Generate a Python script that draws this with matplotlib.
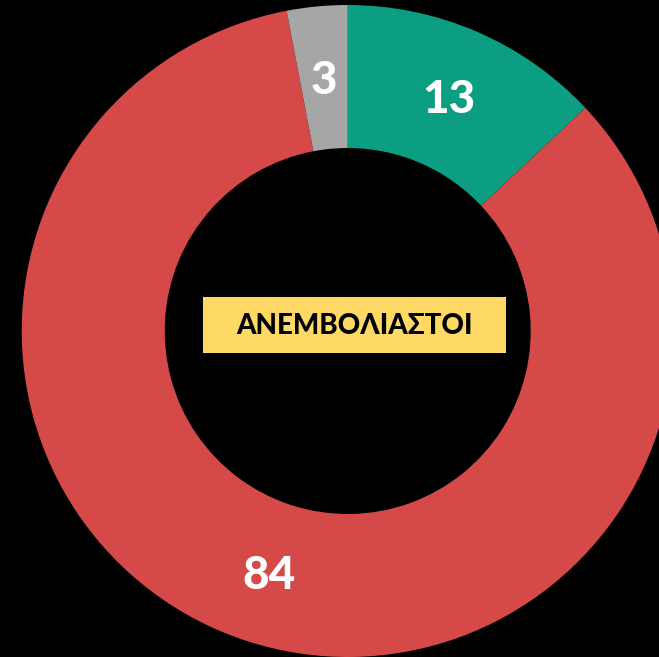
import numpy as np
import matplotlib
matplotlib.use("Agg")
import matplotlib.pyplot as plt
from matplotlib.patches import Rectangle

labels = ["Εμβολιασμένοι", "Ανεμβολίαστοι", "Άλλο"]
values = [13, 84, 3]
colors = ["#0B9E83", "#D64949", "#A6A6A6"]
center_label = "ΑΝΕΜΒΟΛΙΑΣΤΟΙ"

W, H = 659, 657
fig = plt.figure(figsize=(W / 100, H / 100), dpi=100, facecolor="black")
ax = fig.add_axes([0, 0, 1, 1])
ax.set_facecolor("black")

cx, cy = 347.7, H - 331
R, r = 326, 183
wedges, _ = ax.pie(values, colors=colors, startangle=90, counterclock=False,
                   center=(cx, cy), radius=R,
                   wedgeprops=dict(width=R - r, linewidth=0), frame=True)
ax.set_xlim(0, W)
ax.set_ylim(0, H)
ax.set_aspect("equal")
ax.axis("off")

lr = (R + r) / 2
for w, v in zip(wedges, values):
    ang = np.deg2rad((w.theta1 + w.theta2) / 2)
    ax.text(cx + lr * np.cos(ang), cy + lr * np.sin(ang) - 3, str(v),
            color="white", fontsize=33, fontweight=900, family="Lato",
            ha="center", va="center")

ax.add_patch(Rectangle((203, H - 353), 303, 56, facecolor="#FFD966",
                       edgecolor="none", zorder=3))
ax.text(354.5, H - 326, center_label, color="black", fontsize=20,
        fontweight=900, family="Lato", ha="center", va="center", zorder=4)

fig.savefig("out.png", dpi=100, facecolor="black")
